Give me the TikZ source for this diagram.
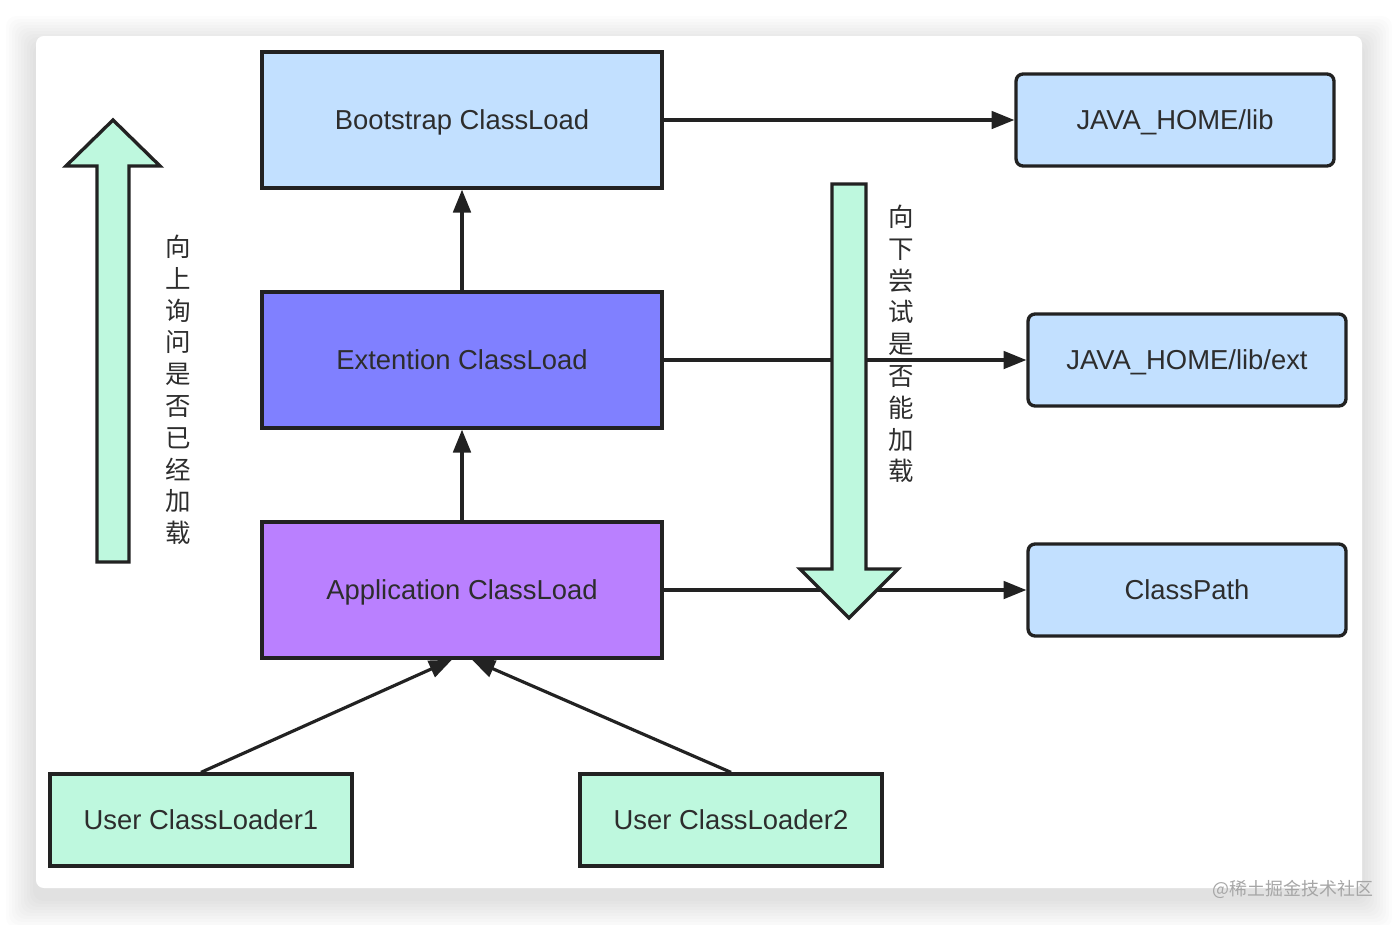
\documentclass[tikz,border=0pt]{standalone}
\usepackage{fontspec}
\setmainfont{Liberation Sans}
\newfontfamily\cjkfont{Noto Sans CJK SC}
\usetikzlibrary{arrows.meta,positioning,calc}
\definecolor{bootblue}{RGB}{194,224,255}
\definecolor{extblue}{RGB}{128,128,255}
\definecolor{apppurple}{RGB}{186,128,255}
\definecolor{libblue}{RGB}{194,224,255}
\definecolor{usermint}{RGB}{190,248,222}
\definecolor{edgedark}{RGB}{34,34,34}
\definecolor{textdark}{RGB}{45,45,45}

\begin{document}
\begin{tikzpicture}[x=0.02cm, y=-0.02cm,
    boxtext/.style={text=textdark, font=\fontsize{15.6}{18}\selectfont, text height=11.2pt, text depth=0pt},
    loader/.style={boxtext, draw=edgedark, line width=1.9pt, minimum width=8cm, minimum height=2.72cm},
    pathbox/.style={boxtext, draw=edgedark, line width=1.9pt, rounded corners=4pt, fill=libblue,
        minimum width=6.36cm, minimum height=1.84cm},
    userbox/.style={boxtext, draw=edgedark, line width=1.9pt, fill=usermint, minimum width=6.04cm,
        minimum height=1.84cm},
    link/.style={draw=edgedark, line width=1.8pt, -{Triangle[length=13pt,width=10pt]}},
    bigarrow/.style={draw=edgedark, line width=1.9pt, fill=usermint, line join=miter},
    vlabel/.style={text=textdark, align=center, font=\cjkfont\fontsize{14.5}{18.1}\selectfont}]
    \useasboundingbox (0,0) rectangle (1398,924);

    % Card with soft shadow
    \foreach \s in {1,...,10}
        \fill[black, opacity=0.013, rounded corners=6pt] ({36-3*\s},{46-3*\s}) rectangle ({1362+3*\s},{898+3*\s});
    \fill[white, rounded corners=4.5pt] (36,36) rectangle (1362,888);

    % Loaders
    \node[loader, fill=bootblue] (boot) at (462,120) {Bootstrap ClassLoad};
    \node[loader, fill=extblue] (ext) at (462,360) {Extention ClassLoad};
    \node[loader, fill=apppurple] (app) at (462,590) {Application ClassLoad};

    % Paths
    \node[pathbox] (lib) at (1175,120) {JAVA\_HOME/lib};
    \node[pathbox] (libext) at (1187,360) {JAVA\_HOME/lib/ext};
    \node[pathbox] (cp) at (1187,590) {ClassPath};

    % User loaders
    \node[userbox] (user1) at (201,820) {User ClassLoader1};
    \node[userbox] (user2) at (731,820) {User ClassLoader2};

    % Connectors
    \draw[link] (boot) -- (lib);
    \draw[link] (ext) -- (libext);
    \draw[link] (app) -- (cp);
    \draw[link] (ext) -- (boot);
    \draw[link] (app) -- (ext);
    \draw[link] (user1.north) -- ($(app.south)+(-10,0)$);
    \draw[link] (user2.north) -- ($(app.south)+(10,0)$);

    % Up: ask parent
    \draw[bigarrow] (97,562) -- (97,166) -- (66,166) -- (113,120) -- (160,166) -- (129,166) -- (129,562) -- cycle;
    \node[vlabel] (asklabel) at (178,390) {向\\上\\询\\问\\是\\否\\已\\经\\加\\载};

    % Down: try to load
    \draw[bigarrow] (832,184) -- (866,184) -- (866,569) -- (898,569) -- (849,618) -- (800,569) -- (832,569) -- cycle;
    \node[vlabel] (trylabel) at (901,344) {向\\下\\尝\\试\\是\\否\\能\\加\\载};

    % Watermark
    \node[text=black!35, font=\cjkfont\fontsize{10.2}{12}\selectfont] (mark) at (1293,889) {@稀土掘金技术社区};
\end{tikzpicture}
\end{document}
